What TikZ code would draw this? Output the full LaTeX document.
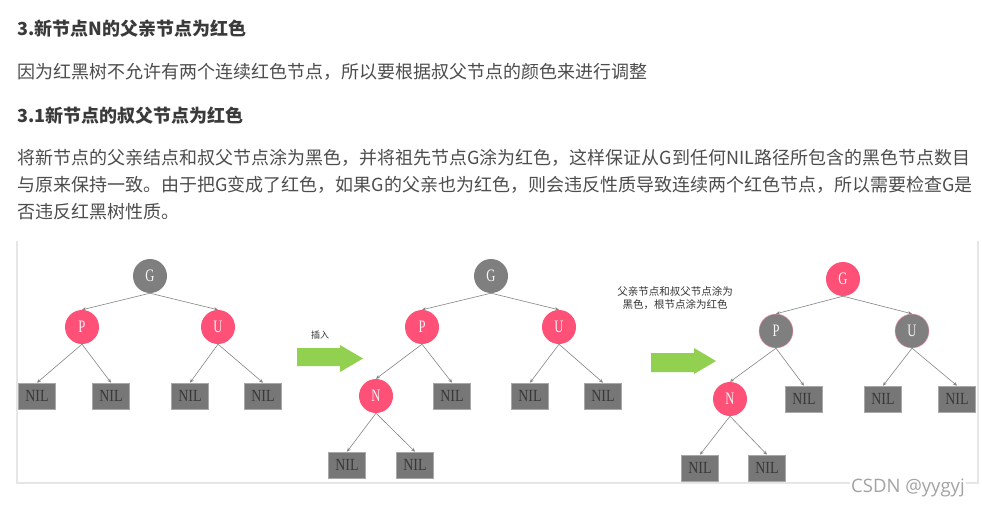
\documentclass[tikz,border=0pt]{standalone}
\usepackage{fontspec}
\usepackage{graphicx}
\setmainfont{Noto Sans CJK SC}
\newfontfamily\lserif{Liberation Serif}
\newfontfamily\wmfont{Open Sans}
\usetikzlibrary{arrows.meta}
\definecolor{txt}{HTML}{4D4D4D}
\definecolor{titletxt}{HTML}{3A3A3A}
\definecolor{nodegray}{HTML}{7F7F7F}
\definecolor{nodered}{HTML}{FF5078}
\definecolor{nilgray}{HTML}{777777}
\definecolor{nilborder}{HTML}{A8A8A8}
\definecolor{edgegray}{HTML}{858585}
\definecolor{arrowgreen}{HTML}{92D050}
\definecolor{framegray}{HTML}{E6E6E6}
\definecolor{wmgray}{HTML}{A3A3A3}
\newcommand{\sq}[2][0.72]{\scalebox{#1}[1]{#2}}
\tikzset{
  rbnode/.style={circle, minimum size=34pt, inner sep=0pt,
    font=\lserif\fontsize{17.5}{17.5}\selectfont, text=white!92!gray},
  blknode/.style={rbnode, fill=nodegray},
  rednode/.style={rbnode, fill=nodered},
  blkrim/.style={rbnode, fill=nodegray, draw=nodered!60, line width=0.4pt},
  nilbox/.style={rectangle, minimum width=37pt, minimum height=26pt, inner sep=0pt,
    fill=nilgray, draw=nilborder, line width=0.6pt,
    font=\lserif\fontsize{17}{17}\selectfont, text=black!78},
  edge/.style={draw=edgegray, line width=0.6pt, -{Stealth[length=4pt,width=3.5pt]}},
  bodytxt/.style={anchor=west, inner sep=0pt, text=txt, font=\fontsize{18}{27}\selectfont},
  titletext/.style={anchor=west, inner sep=0pt, text=titletxt, font=\bfseries\fontsize{18}{27}\selectfont},
  smalltxt/.style={inner sep=0pt, text=black!80, align=center},
  greenarrow/.style={fill=arrowgreen},
  framestyle/.style={draw=framegray, line width=1.2pt}
}
\begin{document}
\begin{tikzpicture}[x=1pt,y=-1pt]
\useasboundingbox (0,0) rectangle (982,508);
\fill[white] (0,0) rectangle (982,508);

% texts
\node[titletext] (t1) at (17,29) {3.新节点N的父亲节点为红色};
\node[bodytxt] (l1) at (17,72) {因为红黑树不允许有两个连续红色节点，所以要根据叔父节点的颜色来进行调整};
\node[titletext] (t2) at (17,116) {3.1新节点的叔父节点为红色};
\node[bodytxt] (p1) at (17,158) {将新节点的父亲结点和叔父节点涂为黑色，并将祖先节点G涂为红色，这样保证从G到任何NIL路径所包含的黑色节点数目};
\node[bodytxt] (p2) at (17,185) {与原来保持一致。由于把G变成了红色，如果G的父亲也为红色，则会违反性质导致连续两个红色节点，所以需要检查G是};
\node[bodytxt] (p3) at (17,212) {否违反红黑树性质。};

% frame
\draw[framestyle] (17,241) -- (17,483) -- (978,483) -- (978,241);

% tree 1
\node[blknode] (g1) at (150,276) {\sq{G}};
\node[rednode] (p1n) at (82,327) {\sq{P}};
\node[rednode] (u1) at (218,327) {\sq{U}};
\node[nilbox] (a1) at (37,396) {\sq[0.82]{NIL}};
\node[nilbox] (b1) at (111,396) {\sq[0.82]{NIL}};
\node[nilbox] (c1) at (190,396) {\sq[0.82]{NIL}};
\node[nilbox] (d1) at (263,396) {\sq[0.82]{NIL}};
\draw[edge] (g1.south) -- (p1n.north);
\draw[edge] (g1.south) -- (u1.north);
\draw[edge] (p1n.south) -- (a1.north);
\draw[edge] (p1n.south) -- (b1.north);
\draw[edge] (u1.south) -- (c1.north);
\draw[edge] (u1.south) -- (d1.north);

% arrow 1
\node[smalltxt, font=\fontsize{9}{11}\selectfont] (ins) at (320,335) {插入};
\fill[greenarrow] (297,348) -- (340,348) -- (340,345) -- (363,358.5) -- (340,372) -- (340,366) -- (297,366) -- cycle;

% tree 2
\node[blknode] (g2) at (491,276) {\sq{G}};
\node[rednode] (p2n) at (422,327) {\sq{P}};
\node[rednode] (u2) at (559,327) {\sq{U}};
\node[rednode] (n2) at (376,396) {\sq{N}};
\node[nilbox] (e2) at (452,396) {\sq[0.82]{NIL}};
\node[nilbox] (f2) at (530,396) {\sq[0.82]{NIL}};
\node[nilbox] (h2) at (603,396) {\sq[0.82]{NIL}};
\node[nilbox] (i2) at (347,465) {\sq[0.82]{NIL}};
\node[nilbox] (j2) at (415,465) {\sq[0.82]{NIL}};
\draw[edge] (g2.south) -- (p2n.north);
\draw[edge] (g2.south) -- (u2.north);
\draw[edge] (p2n.south) -- (n2.north);
\draw[edge] (p2n.south) -- (e2.north);
\draw[edge] (u2.south) -- (f2.north);
\draw[edge] (u2.south) -- (h2.north);
\draw[edge] (n2.south) -- (i2.north);
\draw[edge] (n2.south) -- (j2.north);

% arrow 2
\node[smalltxt, font=\fontsize{10.5}{12.5}\selectfont] (lab2) at (675,298) {父亲节点和叔父节点涂为\\黑色，根节点涂为红色};
\fill[greenarrow] (651,353) -- (694,353) -- (694,348) -- (716,361) -- (694,374) -- (694,372) -- (651,372) -- cycle;

% tree 3
\node[rednode] (g3) at (843,279) {\sq{G}};
\node[blkrim] (p3n) at (776,331) {\sq{P}};
\node[blkrim] (u3) at (912,331) {\sq{U}};
\node[rednode] (n3) at (730,399) {\sq{N}};
\node[nilbox] (e3) at (804,399) {\sq[0.82]{NIL}};
\node[nilbox] (f3) at (883,399) {\sq[0.82]{NIL}};
\node[nilbox] (h3) at (957,399) {\sq[0.82]{NIL}};
\node[nilbox] (i3) at (700,468) {\sq[0.82]{NIL}};
\node[nilbox] (j3) at (767,468) {\sq[0.82]{NIL}};
\draw[edge] (g3.south) -- (p3n.north);
\draw[edge] (g3.south) -- (u3.north);
\draw[edge] (p3n.south) -- (n3.north);
\draw[edge] (p3n.south) -- (e3.north);
\draw[edge] (u3.south) -- (f3.north);
\draw[edge] (u3.south) -- (h3.north);
\draw[edge] (n3.south) -- (i3.north);
\draw[edge] (n3.south) -- (j3.north);

% watermark
\node[anchor=west, fill=white, inner sep=1pt, text=wmgray, font=\wmfont\fontsize{18.5}{18.5}\selectfont] (wm) at (850,488) {CSDN @yygyj};
\end{tikzpicture}
\end{document}
